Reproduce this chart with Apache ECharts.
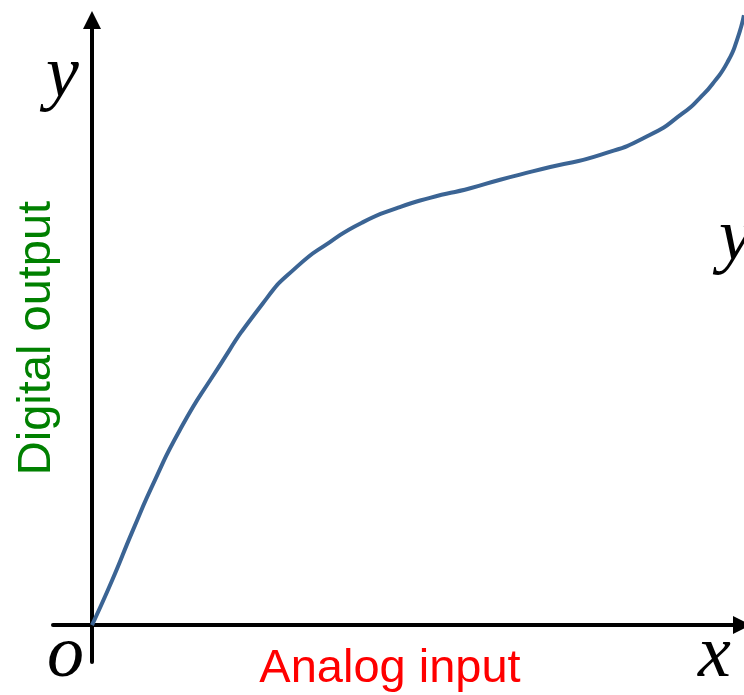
<!DOCTYPE html>
<html>
<head>
<meta charset="utf-8">
<script src="https://cdn.jsdelivr.net/npm/echarts@6/dist/echarts.min.js"></script>
<style>
  html, body { margin: 0; padding: 0; background: #ffffff; }
  #chart { width: 744px; height: 695px; }
</style>
</head>
<body>
<div id="chart"></div>
<script>
// Transfer characteristic of a non-linear converter: analog input -> digital output
const analogInput = [0, 0.31, 0.63, 0.97, 1.35, 1.82, 2.63, 3.15, 3.66, 4.17, 4.69, 5.20, 5.82, 6.28, 7.05, 7.82, 8.58, 9.09, 9.35, 9.58, 9.78, 9.92, 10.03];
const digitalOutput = [0, 0.74, 1.57, 2.40, 3.22, 4.05, 5.32, 5.92, 6.33, 6.66, 6.89, 7.06, 7.22, 7.36, 7.57, 7.77, 8.10, 8.46, 8.71, 8.99, 9.31, 9.66, 10.08];

const xAxisTitle = 'Analog input';
const yAxisTitle = 'Digital output';
const xSymbol = 'x';
const ySymbol = 'y';
const originSymbol = 'o';

const curve = analogInput.map((x, i) => [x, digitalOutput[i]]);

const chart = echarts.init(document.getElementById('chart'), null, { renderer: 'canvas' });

const axisLineCommon = {
  show: true,
  onZero: true,
  symbol: ['none', 'triangle'],
  symbolSize: [18, 18],
  lineStyle: { color: '#000000', width: 4 }
};

const mathFont = {
  fontFamily: 'Liberation Serif',
  fontStyle: 'italic',
  fontSize: 74,
  fill: '#000000'
};

chart.setOption({
  animation: false,
  backgroundColor: '#ffffff',
  grid: { left: 53, right: 2, top: 20, bottom: 33, containLabel: false },
  xAxis: {
    type: 'value',
    min: -0.6,
    max: 10,
    axisLine: axisLineCommon,
    axisTick: { show: false },
    axisLabel: { show: false },
    splitLine: { show: false }
  },
  yAxis: {
    type: 'value',
    min: -0.61,
    max: 10,
    axisLine: axisLineCommon,
    axisTick: { show: false },
    axisLabel: { show: false },
    splitLine: { show: false }
  },
  series: [{
    type: 'line',
    data: curve,
    smooth: 0.6,
    clip: false,
    showSymbol: false,
    symbol: 'none',
    lineStyle: { color: '#3b6494', width: 4 },
    z: 1
  }],
  graphic: [
    { type: 'text', left: 46, top: 40, style: Object.assign({ text: ySymbol }, mathFont) },
    { type: 'text', left: 47, top: 620, style: Object.assign({ text: originSymbol }, mathFont) },
    { type: 'text', left: 698, top: 620, style: Object.assign({ text: xSymbol }, mathFont) },
    { type: 'text', left: 719, top: 203, style: Object.assign({ text: ySymbol }, mathFont) },
    {
      type: 'text', x: 390, y: 669,
      style: { text: xAxisTitle, fontFamily: 'Liberation Sans', fontSize: 47, fill: '#ff0000', align: 'center', verticalAlign: 'middle' }
    },
    {
      type: 'text', x: 37, y: 338, rotation: Math.PI / 2,
      style: { text: yAxisTitle, fontFamily: 'Liberation Sans', fontSize: 47, fill: '#008000', align: 'center', verticalAlign: 'middle' }
    }
  ]
});
</script>
</body>
</html>
